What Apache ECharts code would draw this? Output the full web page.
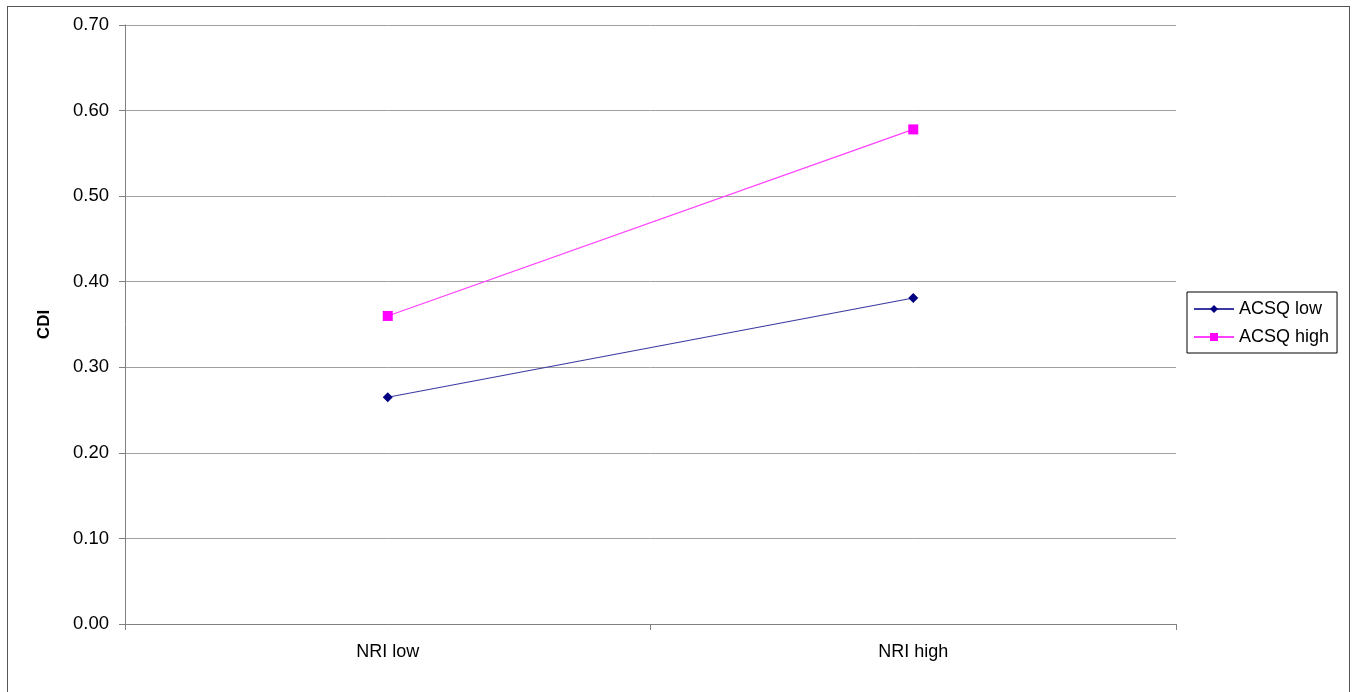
<!DOCTYPE html>
<html>
<head>
<meta charset="utf-8">
<script src="https://cdn.jsdelivr.net/npm/echarts@6/dist/echarts.min.js"></script>
<style>
html,body{margin:0;padding:0;background:#fff;}
#frame{position:absolute;left:7px;top:6px;width:1343px;height:700px;border:1px solid #555;box-sizing:border-box;}
#chart{position:absolute;left:0;top:0;width:1355px;height:692px;}
</style>
</head>
<body>
<div id="frame"></div>
<div id="chart"></div>
<script>
const categories = ['NRI low', 'NRI high'];
const acsqLow = [0.265, 0.381];
const acsqHigh = [0.360, 0.578];
const yTicks = { min: 0, max: 0.7, interval: 0.1 };

const chart = echarts.init(document.getElementById('chart'), null, { renderer: 'canvas' });
const font = 'Liberation Sans, Arial, sans-serif';
chart.setOption({
  animation: false,
  backgroundColor: 'transparent',
  grid: { left: 125, top: 25, width: 1051, height: 599, containLabel: false },
  legend: {
    orient: 'vertical',
    left: 1187, top: 292,
    padding: [8, 8, 7, 6],
    itemGap: 10,
    itemWidth: 40, itemHeight: 10,
    borderColor: '#000', borderWidth: 1,
    textStyle: { fontFamily: font, fontSize: 18, color: '#000' },
    data: ['ACSQ low', 'ACSQ high']
  },
  xAxis: {
    type: 'category',
    data: categories,
    boundaryGap: true,
    axisLine: { lineStyle: { color: '#808080', width: 1 } },
    axisTick: { show: true, length: 6, lineStyle: { color: '#808080' } },
    axisLabel: { fontFamily: font, fontSize: 18, color: '#000', margin: 19 },
    splitLine: { show: false }
  },
  yAxis: {
    type: 'value',
    min: yTicks.min, max: yTicks.max, interval: yTicks.interval,
    name: 'CDI',
    nameLocation: 'middle',
    nameGap: 72,
    nameRotate: 90,
    nameTextStyle: { fontFamily: font, fontSize: 17, fontWeight: 'bold', color: '#000' },
    axisLine: { show: true, lineStyle: { color: '#808080', width: 1 } },
    axisTick: { show: true, length: 6, lineStyle: { color: '#808080' } },
    axisLabel: { fontFamily: font, fontSize: 18.5, color: '#000', margin: 16, formatter: v => v.toFixed(2) },
    splitLine: { show: true, lineStyle: { color: '#a0a0a0', width: 1 } }
  },
  series: [
    {
      name: 'ACSQ low', type: 'line', data: acsqLow,
      symbol: 'diamond', symbolSize: 10,
      itemStyle: { color: '#000080' },
      lineStyle: { color: '#3a3aa0', width: 1.2 }
    },
    {
      name: 'ACSQ high', type: 'line', data: acsqHigh,
      symbol: 'rect', symbolSize: 10,
      itemStyle: { color: '#ff00ff' },
      lineStyle: { color: '#ff40ff', width: 1.2 }
    }
  ]
});
</script>
</body>
</html>
